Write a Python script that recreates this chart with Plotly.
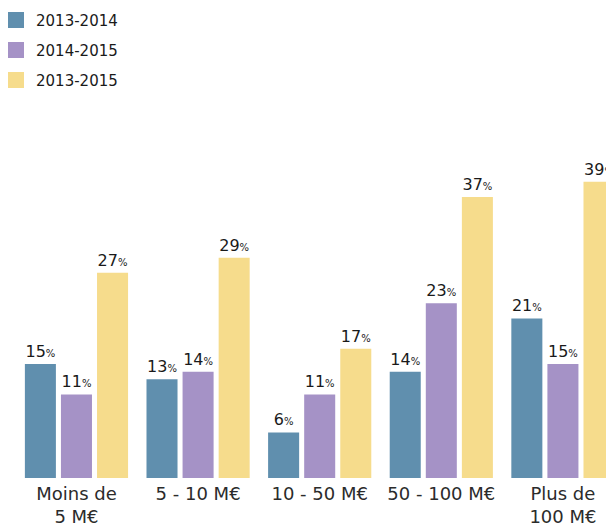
import plotly.graph_objects as go

categories = ["Moins de<br>5 M€", "5 - 10 M€", "10 - 50 M€", "50 - 100 M€", "Plus de<br>100 M€"]
series_names = ["2013-2014", "2014-2015", "2013-2015"]
values_2013_2014 = [15, 13, 6, 14, 21]
values_2014_2015 = [11, 14, 11, 23, 15]
values_2013_2015 = [27, 29, 17, 37, 39]

colors = ["#608fae", "#a592c6", "#f6dc8c"]
font_family = "'DejaVu Sans', sans-serif"


def make_bar(name, values, color):
    return go.Bar(
        name=name,
        x=categories,
        y=values,
        marker=dict(color=color, line=dict(width=0)),
        texttemplate="%{y}<span style='font-size:10px'>%</span>",
        textposition="outside",
        textfont=dict(size=16, color="#1a1a1a", family=font_family),
        cliponaxis=False,
        showlegend=False,
        hoverinfo="skip",
    )


def make_legend_entry(name, color):
    # dummy trace so the legend gets a bigger square swatch
    return go.Scatter(
        name=name,
        x=[None],
        y=[None],
        mode="markers",
        marker=dict(symbol="square", size=16, color=color),
        legendgroup=name,
    )


data = [
    make_bar(series_names[0], values_2013_2014, colors[0]),
    make_bar(series_names[1], values_2014_2015, colors[1]),
    make_bar(series_names[2], values_2013_2015, colors[2]),
]
data += [make_legend_entry(n, c) for n, c in zip(series_names, colors)]

# page has an 8px body margin, so the figure is a bit smaller than the window
layout = go.Layout(
    width=606,
    height=515,
    margin=dict(l=0, r=0, t=100, b=45, autoexpand=False),
    barmode="group",
    bargap=0.11,
    bargroupgap=0.14,
    paper_bgcolor="white",
    plot_bgcolor="white",
    font=dict(family=font_family, size=16, color="#333333"),
    xaxis=dict(
        range=[-0.563, 4.42],
        showgrid=False,
        zeroline=False,
        showline=False,
        ticks="",
        ticklabelstandoff=3,
        tickfont=dict(size=18, color="#2b2b2b"),
    ),
    yaxis=dict(
        range=[0, 48.7],
        showgrid=False,
        zeroline=False,
        showline=False,
        showticklabels=False,
    ),
    showlegend=True,
    legend=dict(
        x=-0.0198,
        y=1.282,
        xref="paper",
        yref="paper",
        xanchor="left",
        yanchor="top",
        tracegroupgap=7.5,
        itemwidth=30,
        font=dict(size=15, color="#1a1a1a"),
        bgcolor="rgba(0,0,0,0)",
    ),
)

fig = go.Figure(data=data, layout=layout)
fig.write_html("out.html")
